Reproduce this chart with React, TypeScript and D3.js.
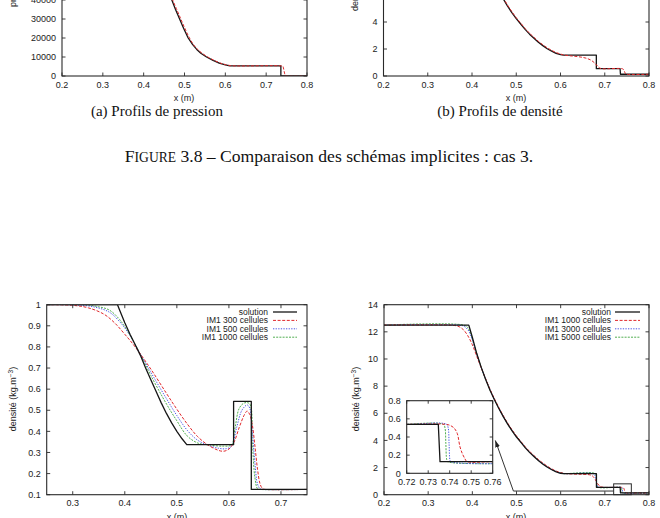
import React from "react";
import * as d3 from "d3";

type Pt = [number, number];

// ---------- (a) pressure profiles ----------
const pressureSolution: Pt[] = [
  [0.2, 100000], [0.39, 100000], [0.4, 92000], [0.41, 84000], [0.42, 76000],
  [0.43, 67500], [0.44, 59000], [0.45, 51500], [0.46, 45000], [0.469, 40000],
  [0.478, 35000], [0.488, 30000], [0.498, 25000], [0.509, 20000], [0.52, 16500],
  [0.53, 14000], [0.54, 12000], [0.554, 10000], [0.57, 8200], [0.585, 6800],
  [0.6, 5800], [0.611, 5300], [0.736, 5300], [0.736, 0], [0.8, 0],
];
const pressureScheme: Pt[] = [
  [0.2, 100000], [0.38, 100000], [0.4, 91000], [0.42, 76500], [0.44, 59000],
  [0.46, 45500], [0.471, 40000], [0.48, 35500], [0.49, 30500], [0.5, 25500],
  [0.511, 20500], [0.522, 16500], [0.532, 14000], [0.543, 12000], [0.557, 10000],
  [0.573, 8200], [0.588, 6800], [0.6, 6000], [0.612, 5500], [0.625, 5300],
  [0.738, 5300], [0.741, 5100], [0.743, 3500], [0.745, 1500], [0.747, 200],
  [0.75, 0], [0.8, 0],
];

// ---------- (b) and (d) density, case 3 ----------
const densitySolution: Pt[] = [
  [0.2, 12.5], [0.392, 12.5], [0.4, 11.6], [0.41, 10.4], [0.42, 9.4], [0.43, 8.5],
  [0.44, 7.7], [0.45, 7.0], [0.46, 6.35], [0.47, 5.75], [0.48, 5.2], [0.49, 4.7],
  [0.5, 4.25], [0.51, 3.85], [0.52, 3.45], [0.53, 3.1], [0.54, 2.8], [0.55, 2.5],
  [0.56, 2.25], [0.57, 2.02], [0.58, 1.84], [0.59, 1.68], [0.6, 1.58], [0.607, 1.55],
  [0.681, 1.55], [0.681, 0.54], [0.7347, 0.54], [0.7355, 0.128], [0.8, 0.128],
];
const densitySchemeB: Pt[] = [
  [0.2, 12.5], [0.38, 12.5], [0.39, 12.3], [0.4, 11.5], [0.41, 10.45], [0.42, 9.45],
  [0.43, 8.56], [0.44, 7.76], [0.45, 7.06], [0.46, 6.42], [0.47, 5.82], [0.48, 5.27],
  [0.49, 4.77], [0.5, 4.32], [0.51, 3.92], [0.52, 3.52], [0.53, 3.17], [0.54, 2.87],
  [0.55, 2.57], [0.56, 2.32], [0.57, 2.09], [0.58, 1.9], [0.59, 1.74], [0.6, 1.63],
  [0.607, 1.56], [0.62, 1.5], [0.635, 1.45], [0.65, 1.38], [0.66, 1.3], [0.67, 1.15],
  [0.678, 0.94], [0.684, 0.72], [0.689, 0.58], [0.695, 0.535], [0.74, 0.535],
  [0.743, 0.45], [0.745, 0.3], [0.747, 0.17], [0.749, 0.13], [0.8, 0.128],
];
const densityIM1000: Pt[] = [
  [0.2, 12.5], [0.35, 12.5], [0.36, 12.47], [0.37, 12.38], [0.38, 12.15], [0.39, 11.7],
  [0.4, 11.05], [0.41, 10.2], [0.42, 9.35], [0.43, 8.56], [0.44, 7.78], [0.45, 7.08],
  [0.46, 6.43], [0.47, 5.83], [0.48, 5.28], [0.49, 4.78], [0.5, 4.33], [0.51, 3.93],
  [0.52, 3.53], [0.53, 3.18], [0.54, 2.88], [0.55, 2.58], [0.56, 2.33], [0.57, 2.1],
  [0.58, 1.9], [0.59, 1.74], [0.6, 1.63], [0.61, 1.56], [0.63, 1.52], [0.65, 1.5],
  [0.665, 1.47], [0.672, 1.38], [0.678, 1.15], [0.684, 0.8], [0.69, 0.6], [0.697, 0.545],
  [0.72, 0.54], [0.738, 0.54], [0.74, 0.53], [0.742, 0.5], [0.7435, 0.44], [0.7448, 0.29],
  [0.746, 0.21], [0.7471, 0.16], [0.748, 0.13], [0.76, 0.128], [0.8, 0.128],
];
const densityIM3000: Pt[] = [
  [0.2, 12.5], [0.37, 12.5], [0.38, 12.43], [0.39, 12.15], [0.4, 11.4], [0.41, 10.33],
  [0.42, 9.38], [0.43, 8.52], [0.44, 7.73], [0.45, 7.03], [0.46, 6.38], [0.47, 5.78],
  [0.48, 5.23], [0.49, 4.73], [0.5, 4.28], [0.51, 3.88], [0.52, 3.48], [0.53, 3.13],
  [0.54, 2.83], [0.55, 2.53], [0.56, 2.28], [0.57, 2.05], [0.58, 1.86], [0.59, 1.7],
  [0.6, 1.59], [0.61, 1.55], [0.675, 1.54], [0.678, 1.4], [0.681, 0.95], [0.684, 0.6],
  [0.688, 0.545], [0.72, 0.54], [0.7385, 0.54], [0.7393, 0.5], [0.7397, 0.33],
  [0.7401, 0.15], [0.7405, 0.128], [0.8, 0.128],
];
const densityIM5000: Pt[] = [
  [0.2, 12.5], [0.38, 12.5], [0.39, 12.3], [0.4, 11.48], [0.41, 10.37], [0.42, 9.39],
  [0.43, 8.51], [0.44, 7.72], [0.45, 7.02], [0.46, 6.37], [0.47, 5.77], [0.48, 5.22],
  [0.49, 4.72], [0.5, 4.27], [0.51, 3.87], [0.52, 3.47], [0.53, 3.12], [0.54, 2.82],
  [0.55, 2.52], [0.56, 2.27], [0.57, 2.04], [0.58, 1.85], [0.59, 1.69], [0.6, 1.58],
  [0.608, 1.55], [0.678, 1.55], [0.6805, 1.2], [0.6825, 0.7], [0.685, 0.545],
  [0.737, 0.54], [0.7378, 0.5], [0.7382, 0.33], [0.7386, 0.15], [0.739, 0.128], [0.8, 0.128],
];

// ---------- (c) density, IM1 on coarse meshes ----------
const caseCSolution: Pt[] = [
  [0.25, 1], [0.386, 1], [0.39, 0.975], [0.4, 0.915], [0.41, 0.86], [0.42, 0.81],
  [0.43, 0.76], [0.44, 0.7], [0.45, 0.645], [0.46, 0.59], [0.47, 0.535], [0.48, 0.485],
  [0.49, 0.44], [0.5, 0.4], [0.51, 0.365], [0.519, 0.337], [0.609, 0.337], [0.609, 0.542],
  [0.643, 0.542], [0.643, 0.125], [0.75, 0.125],
];
const caseCIM300: Pt[] = [
  [0.25, 1], [0.3, 0.997], [0.33, 0.985], [0.36, 0.955], [0.38, 0.915], [0.4, 0.86],
  [0.42, 0.8], [0.45, 0.695], [0.48, 0.58], [0.5, 0.505], [0.52, 0.435], [0.54, 0.375],
  [0.56, 0.335], [0.58, 0.31], [0.59, 0.306], [0.6, 0.316], [0.61, 0.35], [0.62, 0.42],
  [0.63, 0.48], [0.635, 0.496], [0.64, 0.48], [0.645, 0.43], [0.65, 0.33], [0.655, 0.22],
  [0.66, 0.15], [0.665, 0.128], [0.67, 0.125], [0.75, 0.125],
];
const caseCIM500: Pt[] = [
  [0.25, 1], [0.3, 0.999], [0.34, 0.99], [0.37, 0.965], [0.39, 0.92], [0.41, 0.855],
  [0.42, 0.81], [0.45, 0.68], [0.48, 0.555], [0.5, 0.475], [0.52, 0.405], [0.54, 0.358],
  [0.56, 0.335], [0.58, 0.32], [0.595, 0.318], [0.605, 0.33], [0.615, 0.42], [0.625, 0.5],
  [0.635, 0.525], [0.64, 0.51], [0.645, 0.4], [0.65, 0.25], [0.655, 0.15], [0.66, 0.128],
  [0.665, 0.125], [0.75, 0.125],
];
const caseCIM1000: Pt[] = [
  [0.25, 1], [0.32, 1], [0.35, 0.99], [0.37, 0.975], [0.39, 0.93], [0.41, 0.855],
  [0.43, 0.765], [0.45, 0.665], [0.48, 0.53], [0.5, 0.45], [0.52, 0.378], [0.54, 0.345],
  [0.56, 0.336], [0.59, 0.33], [0.605, 0.336], [0.612, 0.42], [0.62, 0.51], [0.63, 0.535],
  [0.64, 0.53], [0.645, 0.35], [0.65, 0.18], [0.655, 0.128], [0.66, 0.125], [0.75, 0.125],
];

const ticks01 = [0.2, 0.3, 0.4, 0.5, 0.6, 0.7, 0.8];
const ticksC = [0.3, 0.4, 0.5, 0.6, 0.7];
const ticksPressure = [0, 10000, 20000, 30000, 40000];
const ticksDensityTop = [0, 2, 4];
const ticksDensity = [0, 2, 4, 6, 8, 10, 12, 14];
const ticksCaseC = [0.1, 0.2, 0.3, 0.4, 0.5, 0.6, 0.7, 0.8, 0.9, 1];
const ticksInsetX = [0.72, 0.73, 0.74, 0.75, 0.76];
const ticksInsetY = [0, 0.2, 0.4, 0.6, 0.8];

const legendC = ["solution", "IM1 300 cellules", "IM1 500 cellules", "IM1 1000 cellules"];
const legendD = ["solution", "IM1 1000 cellules", "IM1 3000 cellules", "IM1 5000 cellules"];

const FONT = "'Liberation Sans', Arial, sans-serif";
const SERIF = "'Liberation Serif', 'Times New Roman', serif";
const AXIS = "#2a2a2a";
const TEXT = "#222";

type Style = { color: string; width: number; dash?: string; smooth?: boolean };
const solStyle: Style = { color: "#161616", width: 1.3 };
const redStyle: Style = { color: "#e0282c", width: 1, dash: "3,1.6", smooth: true };
const blueStyle: Style = { color: "#4a56e6", width: 1, dash: "1.3,1.3", smooth: true };
const greenStyle: Style = { color: "#3da53d", width: 0.9, dash: "2,1.2", smooth: true };

type Box = { left: number; right: number; top: number; bottom: number };

interface PanelProps {
  id: string;
  box: Box;
  xDomain: [number, number];
  yDomain: [number, number];
  xTicks: number[];
  yTicks: number[];
  fmtX: (v: number) => string;
  fmtY: (v: number) => string;
  series: { data: Pt[]; style: Style }[];
  fontSize?: number;
  tickLen?: number;
  fill?: string;
}

function Panel(p: PanelProps) {
  const { box } = p;
  const fs = p.fontSize ?? 9;
  const tl = p.tickLen ?? 3.5;
  const x = d3.scaleLinear().domain(p.xDomain).range([box.left, box.right]);
  const y = d3.scaleLinear().domain(p.yDomain).range([box.bottom, box.top]);
  const mk = (s: Style) =>
    d3
      .line<Pt>()
      .x((d) => x(d[0]))
      .y((d) => y(d[1]))
      .curve(s.smooth ? d3.curveCatmullRom.alpha(0.5) : d3.curveLinear);
  return (
    <g>
      <defs>
        <clipPath id={p.id}>
          <rect x={box.left} y={box.top} width={box.right - box.left} height={box.bottom - box.top} />
        </clipPath>
      </defs>
      {p.fill && (
        <rect x={box.left} y={box.top} width={box.right - box.left} height={box.bottom - box.top} fill={p.fill} />
      )}
      <g clipPath={`url(#${p.id})`}>
        {p.series.map((s, i) => (
          <path
            key={i}
            d={mk(s.style)(s.data) ?? ""}
            fill="none"
            stroke={s.style.color}
            strokeWidth={s.style.width}
            strokeDasharray={s.style.dash}
            strokeLinejoin="round"
          />
        ))}
      </g>
      {p.xTicks.map((t) => (
        <g key={`x${t}`}>
          <line x1={x(t)} x2={x(t)} y1={box.bottom} y2={box.bottom - tl} stroke={AXIS} strokeWidth={0.9} />
          <line x1={x(t)} x2={x(t)} y1={box.top} y2={box.top + tl} stroke={AXIS} strokeWidth={0.9} />
          <text x={x(t)} y={box.bottom + 11.5} textAnchor="middle" fontSize={fs} fontFamily={FONT} fill={TEXT}>
            {p.fmtX(t)}
          </text>
        </g>
      ))}
      {p.yTicks.map((t) => (
        <g key={`y${t}`}>
          <line x1={box.left} x2={box.left + tl} y1={y(t)} y2={y(t)} stroke={AXIS} strokeWidth={0.9} />
          <line x1={box.right} x2={box.right - tl} y1={y(t)} y2={y(t)} stroke={AXIS} strokeWidth={0.9} />
          <text x={box.left - 6} y={y(t) + 3.2} textAnchor="end" fontSize={fs} fontFamily={FONT} fill={TEXT}>
            {p.fmtY(t)}
          </text>
        </g>
      ))}
      <rect
        x={box.left}
        y={box.top}
        width={box.right - box.left}
        height={box.bottom - box.top}
        fill="none"
        stroke={AXIS}
        strokeWidth={1.1}
      />
    </g>
  );
}

function Legend({ labels, styles, textRight, lineX1, lineX2, rowY }: {
  labels: string[]; styles: Style[]; textRight: number; lineX1: number; lineX2: number; rowY: number[];
}) {
  return (
    <g>
      {labels.map((l, i) => (
        <g key={l}>
          <text x={textRight} y={rowY[i] + 3} textAnchor="end" fontSize={8.5} fontFamily={FONT} fill={TEXT}>
            {l}
          </text>
          <line
            x1={lineX1}
            x2={lineX2}
            y1={rowY[i]}
            y2={rowY[i]}
            stroke={styles[i].color}
            strokeWidth={styles[i].width}
            strokeDasharray={styles[i].dash}
          />
        </g>
      ))}
    </g>
  );
}

function DensityLabel({ x, y, anchor }: { x: number; y: number; anchor: "start" | "middle" }) {
  return (
    <text
      transform={`translate(${x},${y}) rotate(-90)`}
      textAnchor={anchor}
      fontSize={9}
      fontFamily={FONT}
      fill={TEXT}
    >
      densité (kg.m
      <tspan dy={-3.5} fontSize={6.5}>−3</tspan>
      <tspan dy={3.5}>)</tspan>
    </text>
  );
}

const f1 = d3.format(".1f");
const f2 = d3.format(".2f");
const fInt = d3.format("d");
const fC = (v: number) => (v === 1 ? "1" : f1(v));
const fInsetY = (v: number) => (v === 0 ? "0" : f1(v));

export default function App() {
  const boxA: Box = { left: 62, right: 307, top: -114, bottom: 76 };
  const boxB: Box = { left: 383.5, right: 649, top: -113, bottom: 76 };
  const boxC: Box = { left: 46.7, right: 307, top: 304.7, bottom: 494.7 };
  const boxD: Box = { left: 384, right: 649, top: 304.7, bottom: 494.7 };
  const boxInset: Box = { left: 406.7, right: 492.7, top: 400.7, bottom: 473.3 };

  const xD = d3.scaleLinear().domain([0.2, 0.8]).range([boxD.left, boxD.right]);
  const yD = d3.scaleLinear().domain([0, 14]).range([boxD.bottom, boxD.top]);
  const rowY = [312, 320.4, 328.8, 337.2];

  return (
    <svg
      width={660}
      height={518}
      style={{ position: "absolute", left: 0, top: 0, background: "#fff" }}
    >
      <defs>
        <marker id="head" viewBox="0 0 10 10" refX="10" refY="5" markerWidth="7" markerHeight="7" orient="auto">
          <path d="M0,1.5 L10,5 L0,8.5 Z" fill="#222" />
        </marker>
      </defs>

      {/* (a) pression */}
      <Panel
        id="clipA" box={boxA} xDomain={[0.2, 0.8]} yDomain={[0, 100000]}
        xTicks={ticks01} yTicks={ticksPressure} fmtX={f1} fmtY={fInt}
        series={[{ data: pressureSolution, style: solStyle }, { data: pressureScheme, style: redStyle }]}
      />
      <text transform="translate(16,7) rotate(-90)" textAnchor="start" fontSize={9} fontFamily={FONT} fill={TEXT}>
        pression (Pa)
      </text>
      <text x={184} y={101} textAnchor="middle" fontSize={9} fontFamily={FONT} fill={TEXT}>x (m)</text>
      <text x={157} y={116} textAnchor="middle" fontSize={15} fontFamily={SERIF} fill="#111">
        (a) Profils de pression
      </text>

      {/* (b) densité */}
      <Panel
        id="clipB" box={boxB} xDomain={[0.2, 0.8]} yDomain={[0, 14]}
        xTicks={ticks01} yTicks={ticksDensityTop} fmtX={f1} fmtY={fInt}
        series={[{ data: densitySolution, style: solStyle }, { data: densitySchemeB, style: redStyle }]}
      />
      <DensityLabel x={358} y={11} anchor="start" />
      <text x={516} y={101} textAnchor="middle" fontSize={9} fontFamily={FONT} fill={TEXT}>x (m)</text>
      <text x={500} y={116} textAnchor="middle" fontSize={15} fontFamily={SERIF} fill="#111">
        (b) Profils de densité
      </text>

      {/* caption */}
      <text x={329} y={162} textAnchor="middle" fontSize={17.6} fontFamily={SERIF} fill="#111">
        F<tspan fontSize={13.6}>IGURE</tspan> 3.8 – Comparaison des schémas implicites : cas 3.
      </text>

      {/* (c) */}
      <Panel
        id="clipC" box={boxC} xDomain={[0.25, 0.75]} yDomain={[0.1, 1]}
        xTicks={ticksC} yTicks={ticksCaseC} fmtX={f1} fmtY={fC}
        series={[
          { data: caseCIM1000, style: greenStyle },
          { data: caseCIM500, style: blueStyle },
          { data: caseCIM300, style: redStyle },
          { data: caseCSolution, style: solStyle },
        ]}
      />
      <Legend labels={legendC} styles={[solStyle, redStyle, blueStyle, greenStyle]}
        textRight={268} lineX1={273} lineX2={297} rowY={rowY} />
      <DensityLabel x={16} y={399} anchor="middle" />
      <text x={177} y={520} textAnchor="middle" fontSize={9} fontFamily={FONT} fill={TEXT}>x (m)</text>

      {/* (d) */}
      <Panel
        id="clipD" box={boxD} xDomain={[0.2, 0.8]} yDomain={[0, 14]}
        xTicks={ticks01} yTicks={ticksDensity} fmtX={f1} fmtY={fInt}
        series={[
          { data: densityIM5000, style: greenStyle },
          { data: densityIM3000, style: blueStyle },
          { data: densityIM1000, style: redStyle },
          { data: densitySolution, style: solStyle },
        ]}
      />
      <Legend labels={legendD} styles={[solStyle, redStyle, blueStyle, greenStyle]}
        textRight={611} lineX1={615} lineX2={640} rowY={rowY} />
      <DensityLabel x={359} y={399} anchor="middle" />
      <text x={516} y={520} textAnchor="middle" fontSize={9} fontFamily={FONT} fill={TEXT}>x (m)</text>

      {/* zoom frame and arrow */}
      <rect x={xD(0.72)} y={yD(0.8)} width={xD(0.76) - xD(0.72)} height={yD(0) - yD(0.8)}
        fill="none" stroke={AXIS} strokeWidth={1} />
      <line x1={xD(0.72)} y1={yD(0.27)} x2={xD(0.493)} y2={yD(0.27)} stroke="#333" strokeWidth={1} />
      <line x1={xD(0.493)} y1={yD(0.27)} x2={xD(0.452)} y2={yD(4)} stroke="#333" strokeWidth={1}
        markerEnd="url(#head)" />

      {/* inset */}
      <Panel
        id="clipInset" box={boxInset} xDomain={[0.72, 0.76]} yDomain={[0, 0.8]}
        xTicks={ticksInsetX} yTicks={ticksInsetY} fmtX={f2} fmtY={fInsetY} tickLen={3} fill="#fff"
        series={[
          { data: densityIM5000, style: greenStyle },
          { data: densityIM3000, style: blueStyle },
          { data: densityIM1000, style: redStyle },
          { data: densitySolution, style: solStyle },
        ]}
      />
    </svg>
  );
}
